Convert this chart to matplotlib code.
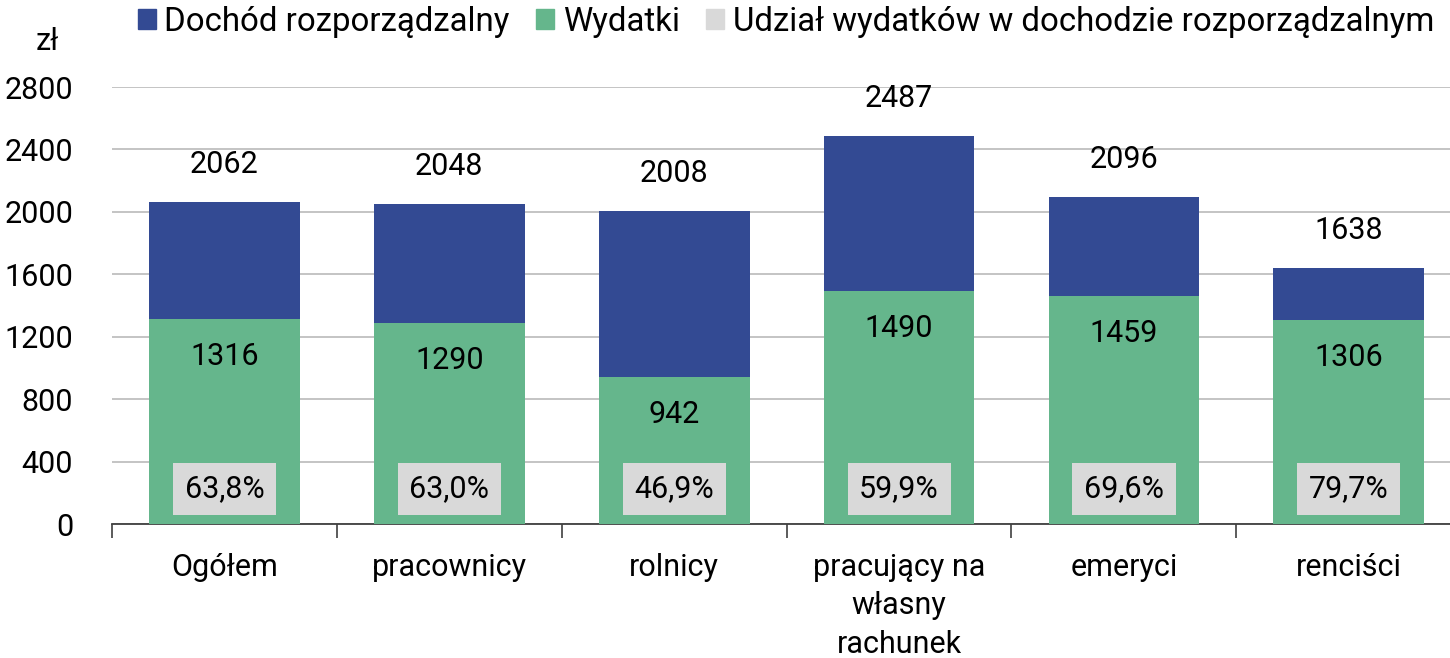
import matplotlib
matplotlib.use("Agg")
import matplotlib.pyplot as plt
import numpy as np
from matplotlib.patches import Patch

categories = ["Ogółem", "pracownicy", "rolnicy", "pracujący na\nwłasny\nrachunek", "emeryci", "renciści"]
dochod = [2062, 2048, 2008, 2487, 2096, 1638]
wydatki = [1316, 1290, 942, 1490, 1459, 1306]
udzial = ["63,8%", "63,0%", "46,9%", "59,9%", "69,6%", "79,7%"]
yticks = [0, 400, 800, 1200, 1600, 2000, 2400, 2800]

plt.rcParams['font.family'] = ['Roboto', 'DejaVu Sans']
BLUE = "#334a93"
GREEN = "#65b68c"
GRAY = "#d9d9d9"
FS = 22

fig = plt.figure(figsize=(14.5, 6.58), dpi=100)
ax = fig.add_axes([112/1450, 1 - 524/658, (1450-112)/1450, (524-87)/658])

x = np.arange(len(categories))
w = 0.67
ax.bar(x, dochod, width=w, color=BLUE, zorder=2)
ax.bar(x, wydatki, width=w, color=GREEN, zorder=3)

for xi, d, e, p in zip(x, dochod, wydatki, udzial):
    ax.text(xi, d + 240, f"{d}", ha="center", va="center", fontsize=FS, color="black", zorder=5)
    ax.text(xi, e - 240, f"{e}", ha="center", va="center", fontsize=FS, color="black", zorder=5)
    ax.text(xi, 225, p, ha="center", va="center", fontsize=FS, color="black", zorder=5,
            bbox=dict(boxstyle="square,pad=0.38", fc=GRAY, ec="none"))

ax.set_yticks(yticks)
ax.set_yticklabels([str(t) for t in yticks], fontsize=FS)
ax.yaxis.grid(True, color="#bfbfbf", linewidth=1.3, zorder=0)
ax.set_axisbelow(True)
ax.tick_params(axis="y", length=0, pad=28)

ax.set_xticks(x)
ax.set_xticklabels(categories, fontsize=FS, linespacing=1.4)
ax.tick_params(axis="x", length=0, pad=21)
ax.set_xticks(np.arange(len(categories) + 1) - 0.5, minor=True)
ax.tick_params(axis="x", which="minor", length=10, width=1.2, color="#404040")
ax.set_ylim(0, 2800)
ax.set_xlim(-0.5, 5.45)

for s in ["top", "right", "left"]:
    ax.spines[s].set_visible(False)
ax.spines["bottom"].set_color("#404040")
ax.spines["bottom"].set_linewidth(1.3)

fig.text(47/1450, 1 - 42/658, "zł", fontsize=FS, ha="center", va="center")

handles = [Patch(color=BLUE, label="Dochód rozporządzalny"),
           Patch(color=GREEN, label="Wydatki"),
           Patch(color=GRAY, label="Udział wydatków w dochodzie rozporządzalnym")]
fig.legend(handles=handles, loc="center left", bbox_to_anchor=(138/1450, 1 - 22/658),
           ncol=3, frameon=False, fontsize=23.8, handlelength=0.55, handleheight=0.55,
           handletextpad=0.25, columnspacing=0.8, borderaxespad=0, borderpad=0)

fig.savefig("out.png", dpi=100)
